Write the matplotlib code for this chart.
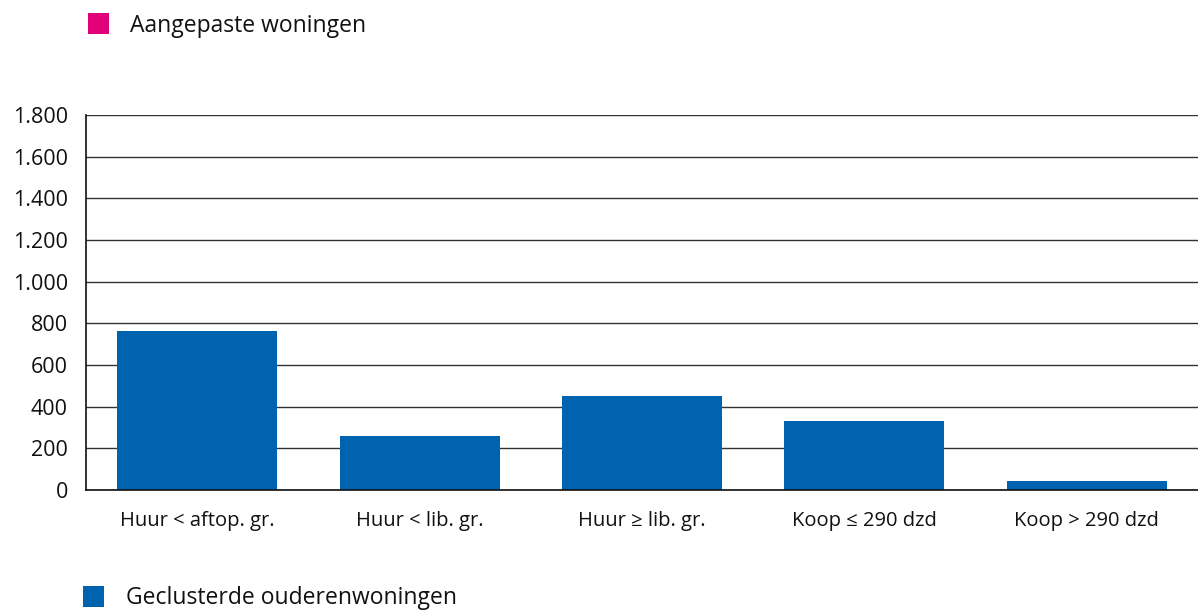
import matplotlib.pyplot as plt
from matplotlib.patches import Rectangle

# Categories and values (Geclusterde ouderenwoningen)
categories = ['Huur < aftop. gr.', 'Huur < lib. gr.', 'Huur ≥ lib. gr.', 'Koop ≤ 290 dzd', 'Koop > 290 dzd']
geclusterd = [763, 259, 451, 331, 43]
yticks = [0, 200, 400, 600, 800, 1000, 1200, 1400, 1600, 1800]

blue = '#0063AF'
magenta = '#E2007A'

plt.rcParams['font.family'] = ['Open Sans', 'DejaVu Sans']

fig = plt.figure(figsize=(11.98, 6.13), dpi=100)
ax = fig.add_axes([86 / 1198, 1 - 490 / 613, 1 - 86 / 1198, 375 / 613])

x = range(len(categories))
ax.bar(x, geclusterd, width=0.72, color=blue, zorder=3)

ax.set_xlim(-0.5, len(categories) - 0.5)
ax.set_ylim(0, 1800)
ax.set_yticks(yticks)
ax.set_yticklabels([f'{v:,}'.replace(',', '.') for v in yticks], fontsize=15.5)
ax.set_xticks(list(x))
ax.set_xticklabels(categories, fontsize=14.5)
ax.tick_params(axis='both', length=0, colors='#111111')
ax.tick_params(axis='y', pad=13)
ax.tick_params(axis='x', pad=15)

ax.grid(axis='y', color='#333333', linewidth=1, zorder=0)
for s in ['top', 'right']:
    ax.spines[s].set_visible(False)
for s in ['left', 'bottom']:
    ax.spines[s].set_color('#111111')
    ax.spines[s].set_linewidth(1.2)
    ax.spines[s].set_zorder(4)

# Legends
fig.add_artist(Rectangle((88 / 1198, 1 - 34 / 613), 21 / 1198, 21 / 613,
                         transform=fig.transFigure, color=magenta, lw=0))
fig.text(130 / 1198, 1 - 26 / 613, 'Aangepaste woningen', fontsize=16.5,
         va='center', ha='left', color='#111111')
fig.add_artist(Rectangle((83 / 1198, 1 - 607 / 613), 21 / 1198, 21 / 613,
                         transform=fig.transFigure, color=blue, lw=0))
fig.text(126 / 1198, 1 - 598 / 613, 'Geclusterde ouderenwoningen', fontsize=16.5,
         va='center', ha='left', color='#111111')

fig.savefig('out.png', dpi=100)
